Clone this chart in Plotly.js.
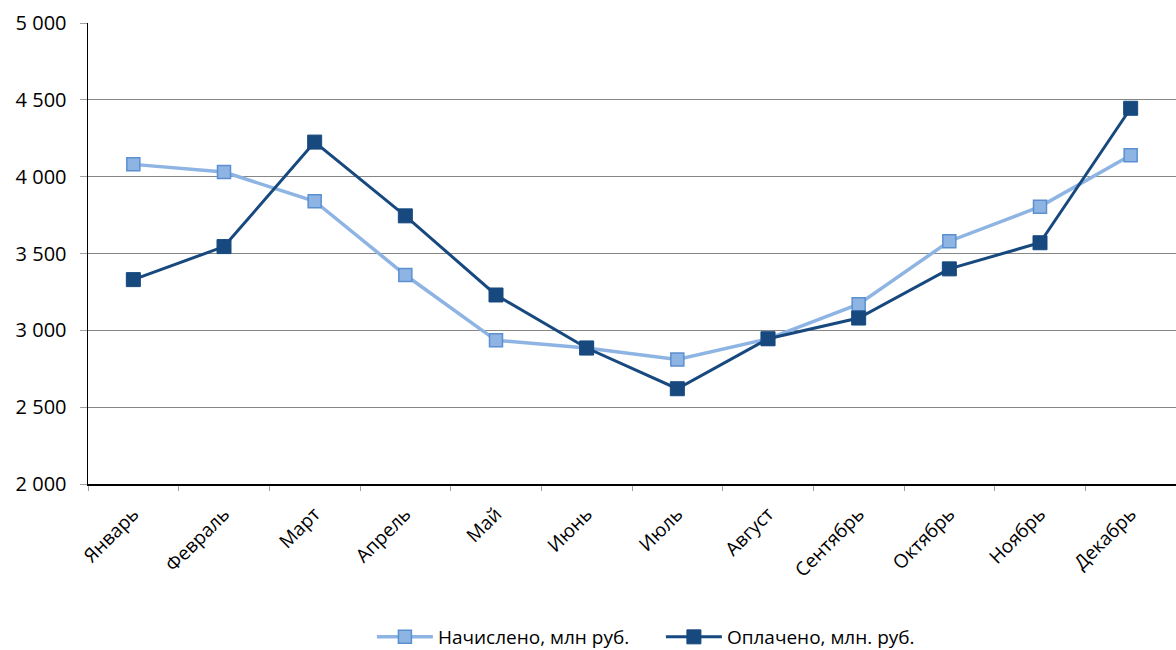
<!DOCTYPE html>
<html>
<head>
<meta charset="utf-8">
<script src="https://cdn.plot.ly/plotly-3.0.1.min.js"></script>
<style>html,body{margin:0;padding:0;background:#fff;}#chart{width:1176px;height:650px;}</style>
</head>
<body>
<div id="chart"></div>
<script>
const months = ["Январь","Февраль","Март","Апрель","Май","Июнь","Июль","Август","Сентябрь","Октябрь","Ноябрь","Декабрь"];
const accrued = [4080, 4030, 3840, 3360, 2935, 2885, 2810, 2945, 3170, 3580, 3805, 4140];
const paid = [3330, 3545, 4225, 3745, 3230, 2885, 2620, 2945, 3080, 3400, 3570, 4445];
const seriesNames = ["Начислено, млн руб.", "Оплачено, млн. руб."];
const yTicks = [2000, 2500, 3000, 3500, 4000, 4500, 5000];

const font = "Open Sans, Noto Sans, sans-serif";
const traces = [
  {x: months, y: accrued, name: seriesNames[0], type: "scatter", mode: "lines+markers",
   line: {color: "#8EB4E3", width: 3.5},
   marker: {symbol: "square", size: 13, color: "#8EB4E3", line: {color: "#5B8FD0", width: 1.5}}},
  {x: months, y: paid, name: seriesNames[1], type: "scatter", mode: "lines+markers",
   line: {color: "#17497F", width: 3},
   marker: {symbol: "square", size: 14, color: "#17497F", line: {color: "#17497F", width: 1}}}
];
const layout = {
  width: 1176, height: 650,
  margin: {l: 88, r: 0, t: 23, b: 166},
  paper_bgcolor: "#fff", plot_bgcolor: "#fff",
  separators: ", ",
  font: {family: font, size: 19, color: "#000"},
  showlegend: true,
  legend: {orientation: "h", x: 0.562, xanchor: "center", xref: "container",
           y: 0.02, yref: "container", yanchor: "middle",
           font: {family: font, size: 19, color: "#000"}, itemwidth: 56,
           entrywidth: 218, entrywidthmode: "pixels", tracegroupgap: 0},
  xaxis: {type: "category", range: [-0.5, 11.5], tickangle: -45, tickson: "boundaries",
          ticks: "outside", ticklen: 5, tickcolor: "#A0A0A0", showgrid: false,
          ticklabelstandoff: 10,
          showline: true, linecolor: "#000", linewidth: 1.5, fixedrange: true,
          tickfont: {family: font, size: 19, color: "#000"}},
  yaxis: {range: [2000, 5000], tickvals: yTicks, tickformat: ",d", ticks: "outside", ticklen: 7,
          tickcolor: "#A0A0A0", showgrid: true, gridcolor: "#868686", gridwidth: 1,
          ticklabelstandoff: 9,
          showline: true, linecolor: "#000", linewidth: 1.5, zeroline: false,
          tickfont: {family: font, size: 20, color: "#000"}}
};
Plotly.newPlot("chart", traces, layout, {displayModeBar: false, staticPlot: true});
</script>
</body>
</html>
